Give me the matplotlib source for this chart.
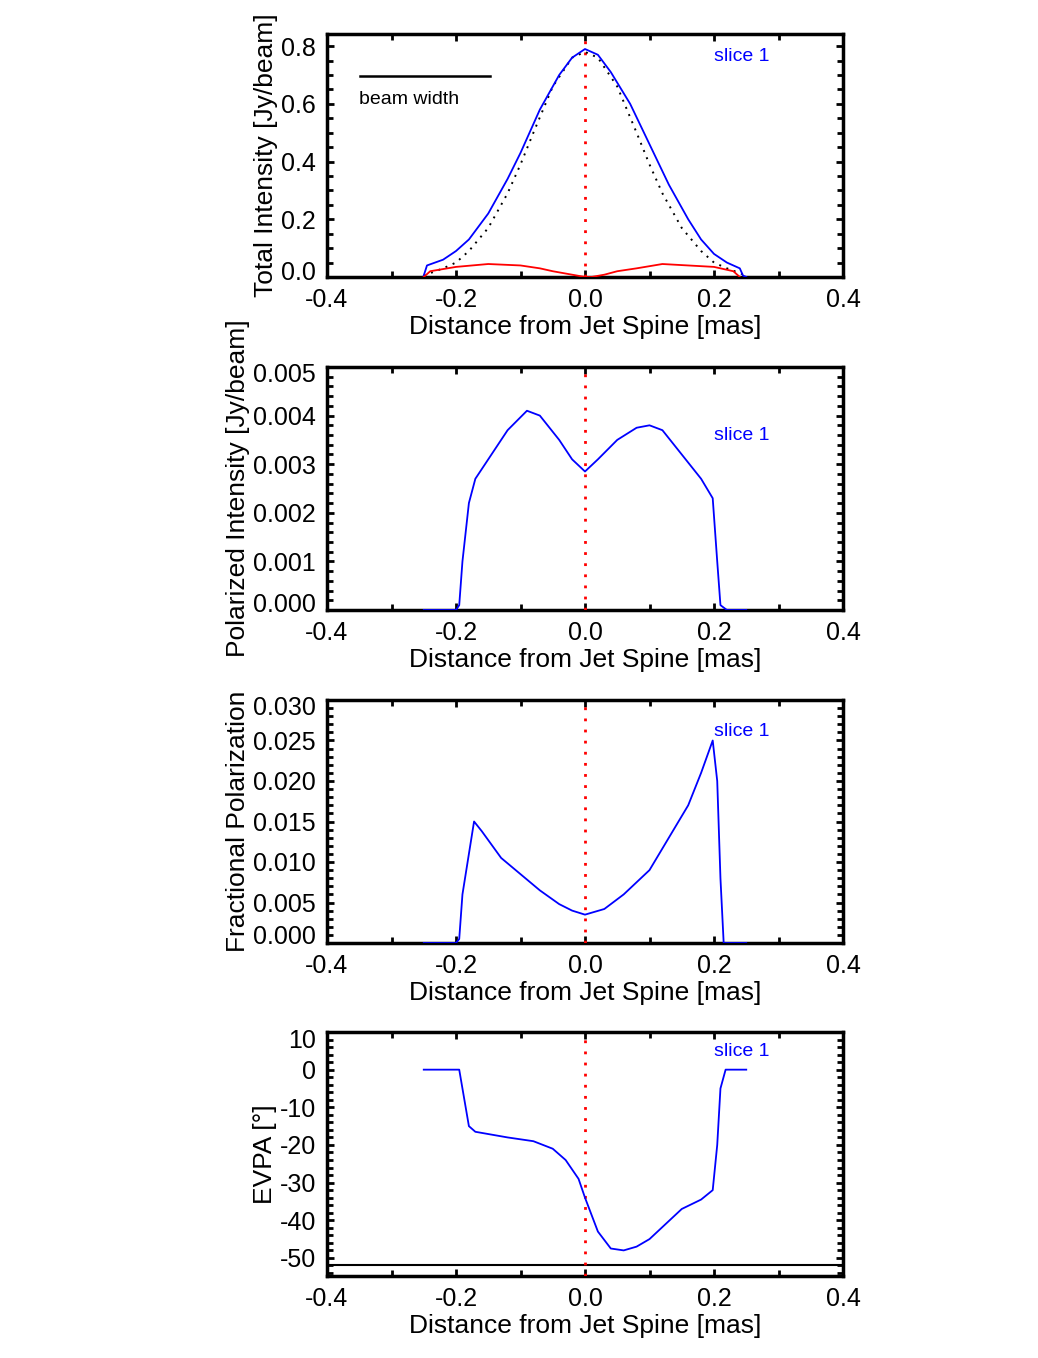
import matplotlib
matplotlib.use("Agg")
import matplotlib.pyplot as plt
from matplotlib.ticker import MultipleLocator
from matplotlib.transforms import ScaledTranslation

plt.rcParams['font.family'] = ['Liberation Sans', 'DejaVu Sans']

# Panel 1: total intensity
ti_x = [-0.25, -0.245, -0.22, -0.2, -0.18, -0.15, -0.12, -0.1, -0.07, -0.04, -0.02, 0.0, 0.02, 0.04, 0.07, 0.1, 0.13, 0.16, 0.18, 0.2, 0.22, 0.24, 0.245, 0.25]
ti_y = [0.005, 0.04, 0.06, 0.09, 0.13, 0.22, 0.34, 0.43, 0.58, 0.70, 0.76, 0.79, 0.77, 0.71, 0.60, 0.46, 0.32, 0.20, 0.13, 0.08, 0.05, 0.03, 0.005, 0.0]
gauss_x = [-0.25, -0.22, -0.2, -0.18, -0.15, -0.12, -0.1, -0.08, -0.05, -0.02, 0.0, 0.02, 0.05, 0.08, 0.1, 0.12, 0.15, 0.18, 0.2, 0.22, 0.25]
gauss_y = [0.005, 0.03, 0.05, 0.09, 0.17, 0.29, 0.39, 0.50, 0.66, 0.76, 0.78, 0.76, 0.66, 0.50, 0.39, 0.29, 0.17, 0.09, 0.05, 0.03, 0.005]
pi_tot_x = [-0.25, -0.24, -0.2, -0.15, -0.1, -0.07, -0.05, -0.02, 0.0, 0.01, 0.03, 0.05, 0.08, 0.12, 0.16, 0.2, 0.23, 0.24]
pi_tot_y = [0.0, 0.02, 0.035, 0.045, 0.04, 0.03, 0.02, 0.008, 0.0, 0.0, 0.008, 0.02, 0.03, 0.045, 0.04, 0.035, 0.02, 0.0]
beam_x = [-0.349, -0.147]
beam_y = [0.696, 0.696]

# Panel 2: polarized intensity
p_x = [-0.25, -0.2, -0.195, -0.19, -0.18, -0.17, -0.15, -0.12, -0.09, -0.07, -0.04, -0.02, 0.0, 0.02, 0.05, 0.08, 0.1, 0.12, 0.15, 0.18, 0.198, 0.205, 0.21, 0.22, 0.25]
p_y = [0.0, 0.0, 0.0001, 0.001, 0.0022, 0.0027, 0.0031, 0.0037, 0.0041, 0.0040, 0.0035, 0.0031, 0.00285, 0.0031, 0.0035, 0.00375, 0.0038, 0.0037, 0.0032, 0.0027, 0.0023, 0.001, 0.0001, 0.0, 0.0]

# Panel 3: fractional polarization
f_x = [-0.25, -0.2, -0.195, -0.19, -0.172, -0.16, -0.13, -0.1, -0.07, -0.04, -0.02, 0.0, 0.03, 0.06, 0.1, 0.13, 0.16, 0.18, 0.198, 0.205, 0.21, 0.215, 0.25]
f_y = [0.0, 0.0, 0.0005, 0.006, 0.015, 0.0138, 0.0105, 0.0085, 0.0065, 0.0048, 0.004, 0.0035, 0.0042, 0.006, 0.009, 0.013, 0.017, 0.021, 0.025, 0.02, 0.008, 0.0, 0.0]

# Panel 4: EVPA
e_x = [-0.25, -0.195, -0.19, -0.18, -0.17, -0.12, -0.08, -0.05, -0.03, -0.01, 0.0, 0.02, 0.04, 0.06, 0.08, 0.1, 0.15, 0.18, 0.198, 0.205, 0.21, 0.218, 0.25]
e_y = [0.0, 0.0, -5, -15, -16.5, -18, -19, -21, -24, -29, -34, -43, -47.5, -48, -47, -45, -37, -34.5, -32, -20, -5, 0.0, 0.0]
evpa_ref = -52.0

xticks = [-0.4, -0.2, 0.0, 0.2, 0.4]
xlabels = ['-0.4', '-0.2', '0.0', '0.2', '0.4']

fig = plt.figure(figsize=(10.38, 13.58), dpi=100)
W, H = 1038, 1358
L, R = 327, 843
panels = [(34, 277), (367, 610), (700, 943), (1032, 1276)]
axes = []
for t, b in panels:
    ax = fig.add_axes([L / W, 1 - b / H, (R - L) / W, (b - t) / H])
    axes.append(ax)

FS = 18
LFS = 19
for ax in axes:
    ax.set_xlim(-0.4, 0.4)
    ax.set_xticks(xticks)
    ax.set_xticklabels(xlabels)
    ax.xaxis.set_minor_locator(MultipleLocator(0.1))
    ax.tick_params(direction='in', top=True, right=True, labelsize=FS, width=2, length=5, pad=8)
    ax.tick_params(which='minor', direction='in', top=True, right=True, width=2, length=4)
    for s in ax.spines.values():
        s.set_linewidth(2.5)
    ax.set_xlabel('Distance from Jet Spine [mas]', fontsize=LFS, labelpad=2)
    ax.axvline(0.0, color='red', ls=(0, (1, 3)), lw=2, zorder=3)

def shift(label, dy_px):
    label.set_transform(label.get_transform() + ScaledTranslation(0, dy_px / 100, fig.dpi_scale_trans))

# Panel 1
ax = axes[0]
ax.set_ylim(0, 0.842)
ax.set_yticks([0.0, 0.2, 0.4, 0.6, 0.8])
ax.set_yticklabels(['0.0', '0.2', '0.4', '0.6', '0.8'])
ax.yaxis.set_minor_locator(MultipleLocator(0.05))
shift(ax.get_yticklabels()[0], 7)
ax.plot(gauss_x, gauss_y, color='black', ls=(0, (1, 3)), lw=1.4, zorder=3)
ax.plot(ti_x, ti_y, color='blue', lw=1.3, zorder=3)
ax.plot(pi_tot_x, pi_tot_y, color='red', lw=1.3, zorder=3)
ax.plot(beam_x, beam_y, color='black', lw=1.8)
ax.text(-0.35, 0.60, 'beam width', fontsize=14)
ax.text(0.2, 0.75, 'slice 1', color='blue', fontsize=14)
ax.set_ylabel('Total Intensity [Jy/beam]', fontsize=LFS, labelpad=2)

# Panel 2
ax = axes[1]
ax.set_ylim(0, 0.005)
ax.set_yticks([0, 0.001, 0.002, 0.003, 0.004, 0.005])
ax.set_yticklabels(['0.000', '0.001', '0.002', '0.003', '0.004', '0.005'])
ax.yaxis.set_minor_locator(MultipleLocator(0.0002))
shift(ax.get_yticklabels()[0], 8)
shift(ax.get_yticklabels()[-1], -6)
ax.plot(p_x, p_y, color='blue', lw=1.3, zorder=3)
ax.text(0.2, 0.0035, 'slice 1', color='blue', fontsize=14)
ax.set_ylabel('Polarized Intensity [Jy/beam]', fontsize=LFS, labelpad=2)

# Panel 3
ax = axes[2]
ax.set_ylim(0, 0.030)
ax.set_yticks([0, 0.005, 0.01, 0.015, 0.02, 0.025, 0.03])
ax.set_yticklabels(['0.000', '0.005', '0.010', '0.015', '0.020', '0.025', '0.030'])
ax.yaxis.set_minor_locator(MultipleLocator(0.001))
shift(ax.get_yticklabels()[0], 8)
shift(ax.get_yticklabels()[-1], -6)
ax.plot(f_x, f_y, color='blue', lw=1.3, zorder=3)
ax.text(0.2, 0.0255, 'slice 1', color='blue', fontsize=14)
ax.set_ylabel('Fractional Polarization', fontsize=LFS, labelpad=2)

# Panel 4
ax = axes[3]
ax.set_ylim(-54.8, 10)
ax.set_yticks([-50, -40, -30, -20, -10, 0, 10])
ax.set_yticklabels(['-50', '-40', '-30', '-20', '-10', '0', '10'])
ax.yaxis.set_minor_locator(MultipleLocator(2))
shift(ax.get_yticklabels()[-1], -6)
ax.plot(e_x, e_y, color='blue', lw=1.3, zorder=3)
ax.axhline(evpa_ref, color='black', lw=1.5)
ax.text(0.2, 3.5, 'slice 1', color='blue', fontsize=14)
ax.set_ylabel('EVPA [°]', fontsize=LFS, labelpad=2)

fig.savefig('out.png', dpi=100)
